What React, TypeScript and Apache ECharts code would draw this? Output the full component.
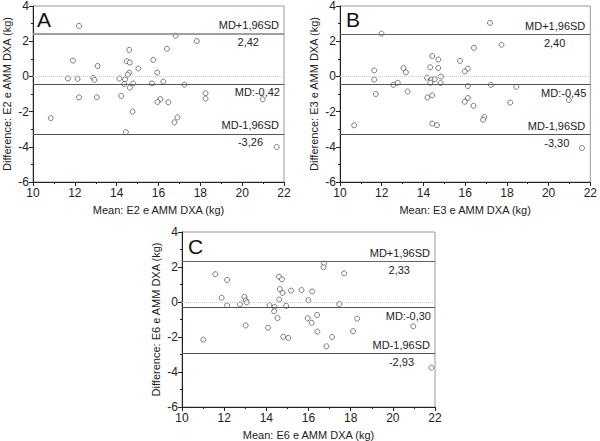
import React, { useEffect, useRef } from "react";
import * as echarts from "echarts";

const panelLetters = ["A", "B", "C"];
const xNames = ["Mean: E2 e AMM DXA (kg)", "Mean: E3 e AMM DXA (kg)", "Mean: E6 e AMM DXA (kg)"];
const yNames = ["Difference: E2 e AMM DXA (kg)", "Difference: E3 e AMM DXA (kg)", "Difference: E6 e AMM DXA (kg)"];

const upperLimits = [2.42, 2.4, 2.33];
const meanDiffs = [-0.42, -0.45, -0.3];
const lowerLimits = [-3.26, -3.3, -2.93];

const pointsA: number[][] = [
  [12.2, 2.87], [16.82, 2.31], [17.83, 2.01], [16.4, 1.57], [14.6, 1.51], [11.91, 0.9],
  [14.48, 0.86], [14.63, 0.79], [15.75, 0.94], [13.09, 0.59], [15.04, 0.45], [15.94, 0.22],
  [14.6, 0.21], [14.53, 0.1], [11.67, -0.12], [12.13, -0.14], [12.88, -0.08], [12.94, -0.2],
  [14.13, -0.12], [14.4, -0.17], [14.36, -0.43], [14.79, -0.4], [15.69, -0.4], [16.23, -0.29],
  [17.24, -0.47], [14.63, -0.64], [12.2, -1.19], [13.05, -1.19], [14.22, -1.11], [18.25, -0.96],
  [18.25, -1.26], [16.09, -1.29], [15.95, -1.45], [16.47, -1.47], [20.98, -1.3], [14.76, -2.0],
  [10.85, -2.37], [16.91, -2.33], [16.76, -2.61], [14.44, -3.17], [21.65, -4.01],
];

const pointsB: number[][] = [
  [17.19, 3.04], [11.99, 2.43], [17.74, 1.8], [16.42, 1.62], [14.42, 1.16], [14.71, 0.96],
  [15.75, 0.88], [11.64, 0.34], [13.04, 0.47], [13.16, 0.23], [14.32, 0.52], [14.71, 0.48],
  [16.13, 0.44], [15.98, 0.28], [11.64, -0.18], [14.16, -0.07], [14.84, -0.01], [14.39, -0.18],
  [14.54, -0.16], [14.33, -0.36], [14.82, -0.38], [12.56, -0.48], [12.77, -0.36], [16.13, -0.55],
  [17.23, -0.48], [18.45, -0.59], [11.72, -1.0], [13.24, -0.86], [14.19, -1.2], [14.42, -1.07],
  [16.13, -1.23], [15.98, -1.44], [16.4, -1.67], [18.16, -1.49], [20.97, -1.34], [16.92, -2.31],
  [16.86, -2.46], [14.42, -2.68], [14.65, -2.77], [10.68, -2.78], [21.6, -4.07],
];

const pointsC: number[][] = [
  [16.74, 2.2], [16.71, 1.99], [17.69, 1.64], [11.58, 1.59], [12.14, 1.26], [14.6, 1.45],
  [14.74, 1.3], [14.64, 0.74], [14.77, 0.52], [15.17, 0.65], [15.67, 0.68], [16.17, 0.6],
  [11.88, 0.24], [12.96, 0.29], [13.02, 0.09], [13.07, -0.02], [14.61, 0.14], [15.99, 0.1],
  [12.14, -0.19], [12.75, -0.14], [14.15, -0.18], [14.39, -0.28], [14.37, -0.53], [14.94, -0.22],
  [17.46, -0.12], [16.41, -0.74], [14.53, -0.92], [15.96, -0.93], [16.15, -1.19], [18.31, -0.95],
  [13.02, -1.34], [14.08, -1.47], [16.42, -1.69], [18.11, -1.67], [20.97, -1.39], [14.8, -1.99],
  [15.04, -2.05], [17.12, -2.0], [11.01, -2.15], [16.85, -2.53], [21.83, -3.75],
];

const allPoints = [pointsA, pointsB, pointsC];

const fmt = (v: number) => v.toFixed(2).replace(".", ",");

const grids = [
  { left: 31, top: 5, width: 253, height: 177 },
  { left: 340, top: 5, width: 253, height: 177 },
  { left: 182, top: 232, width: 253, height: 176 },
];

const FONT = "Liberation Sans, Arial, Helvetica, sans-serif";

export default function App() {
  const ref = useRef<HTMLDivElement>(null);
  useEffect(() => {
    if (!ref.current) return;
    const chart = echarts.init(ref.current, null, { renderer: "svg" });
    const textStyle = { fontFamily: FONT, fontSize: 11, color: "#222" };
    const option: any = {
      animation: false,
      backgroundColor: "#fff",
      textStyle: { fontFamily: FONT },
      title: grids.map((g, i) => ({
        text: panelLetters[i],
        left: g.left + 6,
        top: g.top + 4,
        padding: 0,
        textStyle: { fontFamily: FONT, fontSize: 21, fontWeight: "normal", color: "#111" },
      })),
      grid: grids.map((g) => ({ ...g, show: true, borderColor: "#999", borderWidth: 1, backgroundColor: "transparent" })),
      xAxis: grids.map((_, i) => ({
        type: "value",
        gridIndex: i,
        min: 10,
        max: 22,
        interval: 2,
        name: xNames[i],
        nameLocation: "middle",
        nameGap: 22,
        nameTextStyle: textStyle,
        axisLine: { show: true, onZero: false, lineStyle: { color: "#222", width: 1 } },
        axisTick: { show: true, length: 4, lineStyle: { color: "#222" } },
        minorTick: { show: true, splitNumber: 2, length: 2, lineStyle: { color: "#222" } },
        axisLabel: { ...textStyle, fontSize: 12, margin: 5 },
        splitLine: { show: false },
      })),
      yAxis: grids.map((_, i) => ({
        type: "value",
        gridIndex: i,
        min: -6,
        max: 4,
        interval: 2,
        name: yNames[i],
        nameLocation: "middle",
        nameGap: 21,
        nameTextStyle: textStyle,
        axisLine: { show: true, onZero: false, lineStyle: { color: "#222", width: 1 } },
        axisTick: { show: true, length: 4, lineStyle: { color: "#222" } },
        minorTick: { show: true, splitNumber: 2, length: 2, lineStyle: { color: "#222" } },
        axisLabel: { ...textStyle, fontSize: 12, margin: 4 },
        splitLine: { show: false },
      })),
      series: allPoints.map((pts, i) => {
        const lblStyle = { fontFamily: FONT, fontSize: 11, color: "#222" };
        return {
          type: "scatter",
          xAxisIndex: i,
          yAxisIndex: i,
          data: pts,
          symbol: "circle",
          symbolSize: 5,
          itemStyle: { color: "#fff", borderColor: "#333", borderWidth: 0.8 },
          markLine: {
            silent: true,
            symbol: ["none", "none"],
            animation: false,
            data: [
              {
                yAxis: 0,
                lineStyle: { color: "#ccc", type: "dotted", width: 1 },
                label: { show: false },
              },
              {
                yAxis: upperLimits[i],
                lineStyle: { color: i === 0 ? "#999" : "#666", type: "solid", width: i === 0 ? 1.6 : 1 },
                label: { show: true, position: "insideEndTop", formatter: "MD+1,96SD", ...lblStyle, distance: 3, padding: [0, 2, 0, 0] },
              },
              {
                yAxis: upperLimits[i],
                lineStyle: { color: i === 0 ? "#999" : "#666", type: "solid", width: i === 0 ? 1.6 : 1 },
                label: { show: true, position: "insideEndBottom", formatter: fmt(upperLimits[i]), ...lblStyle, distance: 3, padding: [0, 22, 0, 0] },
              },
              {
                yAxis: meanDiffs[i],
                lineStyle: { color: "#555", type: "solid", width: 1 },
                label: { show: true, position: "insideEndBottom", formatter: "MD:" + fmt(meanDiffs[i]), ...lblStyle, distance: 3, padding: [0, 1, 0, 0] },
              },
              {
                yAxis: lowerLimits[i],
                lineStyle: { color: "#555", type: "solid", width: 1 },
                label: { show: true, position: "insideEndTop", formatter: "MD-1,96SD", ...lblStyle, distance: 3, padding: [0, 2, 0, 0] },
              },
              {
                yAxis: lowerLimits[i],
                lineStyle: { color: "#555", type: "solid", width: 1 },
                label: { show: true, position: "insideEndBottom", formatter: fmt(lowerLimits[i]), ...lblStyle, distance: 3, padding: [0, 18, 0, 0] },
              },
            ],
          },
          z: 3,
        };
      }),
    };
    chart.setOption(option);
    return () => chart.dispose();
  }, []);
  return <div ref={ref} style={{ width: 600, height: 441, position: "absolute", left: 0, top: 0 }} />;
}
